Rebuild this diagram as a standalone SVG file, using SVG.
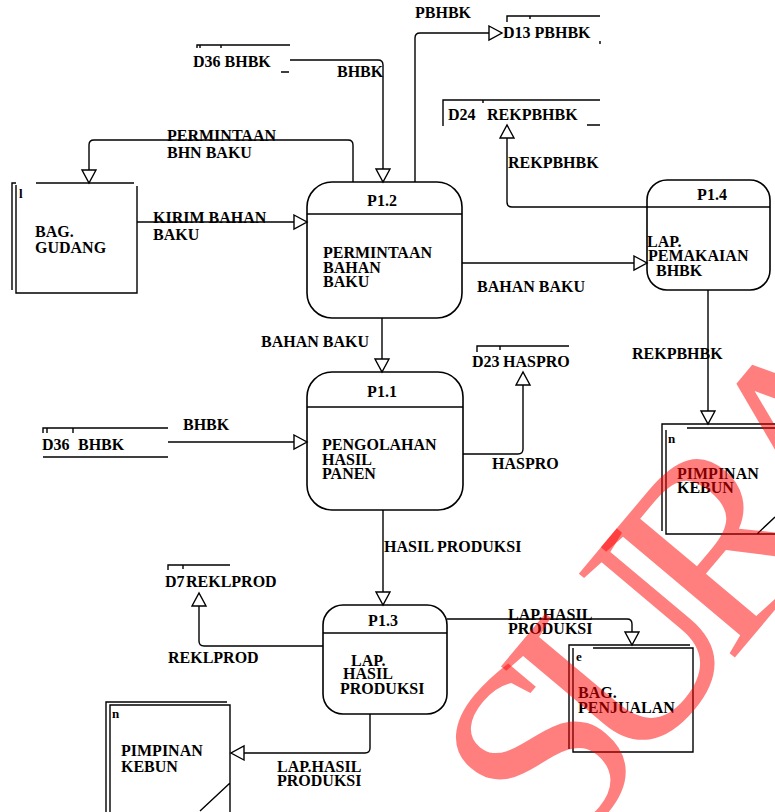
<svg xmlns="http://www.w3.org/2000/svg" width="775" height="812" viewBox="0 0 775 812">
<style>
.t{font-family:"Liberation Serif","Times New Roman",serif;font-weight:bold;font-size:16px;fill:#000}
.s{font-family:"Liberation Serif","Times New Roman",serif;font-weight:bold;font-size:13px;fill:#000}
.c{text-anchor:middle}
.ln{fill:none;stroke:#000;stroke-width:1.4}
.bx{fill:none;stroke:#000;stroke-width:1.6}
.fl{fill:none;stroke:#000;stroke-width:1.4;marker-end:url(#arr)}
.wm{font-family:"Liberation Serif","Times New Roman",serif;font-size:265px;letter-spacing:-38px;fill:#ff0000;fill-opacity:0.5}
</style>
<defs>
<marker id="arr" markerUnits="userSpaceOnUse" markerWidth="16" markerHeight="17" refX="14" refY="8" orient="auto" viewBox="0 0 16 17">
<path d="M1,1 L14,8 L1,15 Z" fill="#fff" stroke="#000" stroke-width="1.4"/>
</marker>
</defs>
<rect width="775" height="812" fill="#fff"/>

<g id="connectors">
<path class="fl" d="M290,60 H378 Q383,60 383,65 V182"/>
<path class="fl" d="M353,182 V145 Q353,140 348,140 H94 Q89,140 89,145 V183"/>
<path class="fl" d="M137,222 H307"/>
<path class="fl" d="M415,182 V38 Q415,33 420,33 H502"/>
<path class="fl" d="M647,207 H512 Q507,207 507,202 V125"/>
<path class="fl" d="M462,263 H647"/>
<path class="fl" d="M708,290 V424"/>
<path class="fl" d="M382,318 V372"/>
<path class="fl" d="M168,442 H307"/>
<path class="fl" d="M463,454 H518 Q523,454 523,449 V372"/>
<path class="fl" d="M383,510 V605"/>
<path class="fl" d="M323,646 H204 Q199,646 199,641 V593"/>
<path class="fl" d="M370,714 V748 Q370,753 365,753 H231"/>
<path class="fl" d="M447,619 H627 Q632,619 632,624 V645"/>
<text class="t" x="337" y="77">BHBK</text>
<text class="t" x="167" y="141">PERMINTAAN</text>
<text class="t" x="167" y="158">BHN BAKU</text>
<text class="t" x="153" y="223">KIRIM BAHAN</text>
<text class="t" x="153" y="240">BAKU</text>
<text class="t" x="415" y="18">PBHBK</text>
<text class="t" x="508" y="168">REKPBHBK</text>
<text class="t" x="477" y="292">BAHAN BAKU</text>
<text class="t" x="632" y="359">REKPBHBK</text>
<text class="t" x="261" y="347">BAHAN BAKU</text>
<text class="t" x="183" y="430">BHBK</text>
<text class="t" x="492" y="469">HASPRO</text>
<text class="t" x="384" y="552">HASIL PRODUKSI</text>
<text class="t" x="168" y="663">REKLPROD</text>
<text class="t" x="277" y="772">LAP.HASIL</text>
<text class="t" x="277" y="786">PRODUKSI</text>
<text class="t" x="508" y="620">LAP.HASIL</text>
<text class="t" x="508" y="634">PRODUKSI</text>
</g>

<g id="store-d36-top">
<path class="ln" d="M197,48 V45 H290 M200,45 V48 M221,45 V48 M281,72 H289"/>
<text class="t" x="193" y="67">D36 BHBK</text>
</g>

<g id="store-d13">
<path class="ln" d="M507,22 V16 H600 M530,16 V19 M600,41 V44"/>
<text class="t" x="503" y="38">D13 PBHBK</text>
</g>

<g id="store-d24">
<path class="ln" d="M443,126 V100 H600 M483,100 V103 M587,125 H600"/>
<text class="t" x="448" y="120">D24</text>
<text class="t" x="487" y="120">REKPBHBK</text>
</g>

<g id="store-d23">
<path class="ln" d="M477,352 V346 H569 M500,346 V350"/>
<text class="t" x="472" y="367">D23</text>
<text class="t" x="503" y="367">HASPRO</text>
</g>

<g id="store-d36-left">
<path class="ln" d="M43,433 V428 H168 M47,428 V433 M73,428 V433 M43,457 H168"/>
<text class="t" x="42" y="450">D36</text>
<text class="t" x="78" y="450">BHBK</text>
</g>

<g id="store-d7">
<path class="ln" d="M168,570 V565 H230 M183,565 V569"/>
<text class="t" x="165" y="587">D7</text>
<text class="t" x="186" y="587">REKLPROD</text>
</g>

<g id="bag-gudang">
<path class="ln" d="M12,290 V183 H16"/>
<path class="ln" d="M36,183 H134" stroke-width="2.2"/>
<path class="ln" d="M16,185 V293 H137 V186"/>
<text class="s" x="19" y="198">l</text>
<text class="t" x="35" y="237">BAG.</text>
<text class="t" x="35" y="253">GUDANG</text>
</g>

<g id="p1-2">
<rect class="bx" x="307" y="182" width="155" height="136" rx="25"/>
<path class="ln" d="M307,214 H462"/>
<text class="t c" x="382" y="206">P1.2</text>
<text class="t" x="323" y="258">PERMINTAAN</text>
<text class="t" x="323" y="273">BAHAN</text>
<text class="t" x="323" y="287">BAKU</text>
</g>

<g id="p1-4">
<rect class="bx" x="647" y="180" width="123" height="110" rx="20"/>
<path class="ln" d="M647,207 H770"/>
<text class="t c" x="712" y="200">P1.4</text>
<text class="t" x="647" y="247">LAP.</text>
<text class="t" x="648" y="261">PEMAKAIAN</text>
<text class="t" x="656" y="276">BHBK</text>
</g>

<g id="p1-1">
<rect class="bx" x="307" y="372" width="156" height="138" rx="25"/>
<path class="ln" d="M307,407 H463"/>
<text class="t c" x="382" y="397">P1.1</text>
<text class="t" x="322" y="450">PENGOLAHAN</text>
<text class="t" x="322" y="465">HASIL</text>
<text class="t" x="322" y="479">PANEN</text>
</g>

<g id="p1-3">
<rect class="bx" x="323" y="605" width="124" height="109" rx="20"/>
<path class="ln" d="M323,633 H447"/>
<text class="t c" x="383" y="626">P1.3</text>
<text class="t" x="351" y="666">LAP.</text>
<text class="t" x="343" y="679">HASIL</text>
<text class="t" x="340" y="694">PRODUKSI</text>
</g>

<g id="pimpinan-kebun-right">
<path class="ln" d="M662,531 V424 H775"/>
<path class="ln" d="M687,428 H775 M666,430 V534 H775 M757,534 L775,517"/>
<text class="s" x="668" y="443">n</text>
<text class="t" x="677" y="479">PIMPINAN</text>
<text class="t" x="677" y="493">KEBUN</text>
</g>

<g id="pimpinan-kebun-left">
<path class="ln" d="M106,812 V702 H227"/>
<path class="ln" d="M110,812 V705 H230 V812 M200,811 L230,783"/>
<text class="s" x="112" y="718">n</text>
<text class="t" x="121" y="756">PIMPINAN</text>
<text class="t" x="121" y="772">KEBUN</text>
</g>

<g id="bag-penjualan">
<path class="ln" d="M569,749 V645 H690"/>
<path class="ln" d="M593,648 H693 V752 H573 V648"/>
<text class="s" x="576" y="661">e</text>
<text class="t" x="578" y="698">BAG.</text>
<text class="t" x="578" y="713">PENJUALAN</text>
</g>

<g id="watermark">
<text class="wm" transform="translate(560,866) rotate(-50)">SURA</text>
</g>
</svg>
